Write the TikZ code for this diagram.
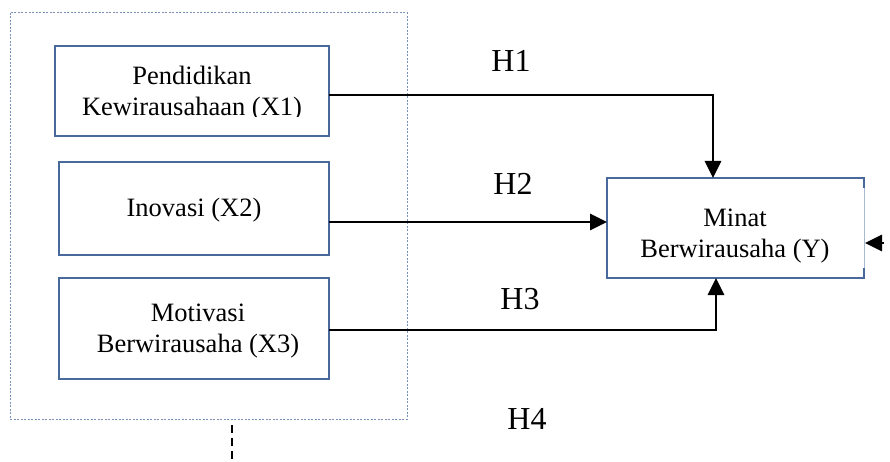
\documentclass[tikz,border=0pt]{standalone}
\usepackage{fontspec}
\setmainfont{Liberation Serif}
\usetikzlibrary{arrows.meta}
\definecolor{boxblue}{RGB}{72,105,155}
\definecolor{dotblue}{RGB}{120,145,185}
\definecolor{paleblue}{RGB}{170,185,210}
\begin{document}
\begin{tikzpicture}[x=1pt,y=-1pt,
  varbox/.style={draw=boxblue,line width=1.6pt},
  boxtext/.style={font=\fontsize{26.5}{31}\selectfont,align=center,inner sep=0pt},
  hlabel/.style={font=\fontsize{32}{36}\selectfont,inner sep=0pt},
  conn/.style={line width=2.8pt,-{Triangle[length=17pt,width=16pt]}},
  plain/.style={line width=2.8pt}]
\useasboundingbox (0,0) rectangle (890,462);
% dotted group box
\draw[dotblue,line width=1pt,dash pattern=on 2pt off 1.5pt] (10,13) rectangle (407,419);
% variable boxes
\draw[varbox] (55,46) rectangle (329,136);
\coordinate (x1e) at (329,95);
\begin{scope}
\clip (0,0) rectangle (890,116.5);
\node[boxtext] (x1) at (192,94) {Pendidikan\\Kewirausahaan (X1)};
\end{scope}
\draw[varbox] (59,162) rectangle (329,255);
\coordinate (x2e) at (329,222);
\node[boxtext] (x2) at (194,210) {Inovasi (X2)};
\draw[varbox] (59,278) rectangle (329,379);
\coordinate (x3e) at (329,330);
\node[boxtext] (x3) at (198,331) {Motivasi\\Berwirausaha (X3)};
% dependent box
\draw[varbox] (864,188) -- (864,178) -- (607,178) -- (607,278) -- (864,278) -- (864,268);
\draw[paleblue,line width=1pt] (864,188) -- (864,268);
\node[boxtext] (y) at (735,236) {Minat\\Berwirausaha (Y)};
\coordinate (ytop) at (713,178);
\coordinate (yleft) at (607,222);
\coordinate (ybot) at (716,278);
\coordinate (yright) at (865,243);
\coordinate (rstart) at (884,243);
\coordinate (k1) at (713,95);
\coordinate (k3) at (716,330);
% connectors
\draw[conn] (x1e) -- (k1) -- (ytop);
\draw[conn] (x2e) -- (yleft);
\draw[conn] (x3e) -- (k3) -- (ybot);
\draw[conn] (rstart) -- (yright);
% dashed stub
\coordinate (d1) at (232,425);
\coordinate (d2) at (232,462);
\draw[line width=2.2pt,dash pattern=on 8pt off 5pt] (d1) -- (d2);
% labels
\node[hlabel] (h1) at (511,61) {H1};
\node[hlabel] (h2) at (513,184) {H2};
\node[hlabel] (h3) at (520,299) {H3};
\node[hlabel] (h4) at (527,419) {H4};
\end{tikzpicture}
\end{document}
